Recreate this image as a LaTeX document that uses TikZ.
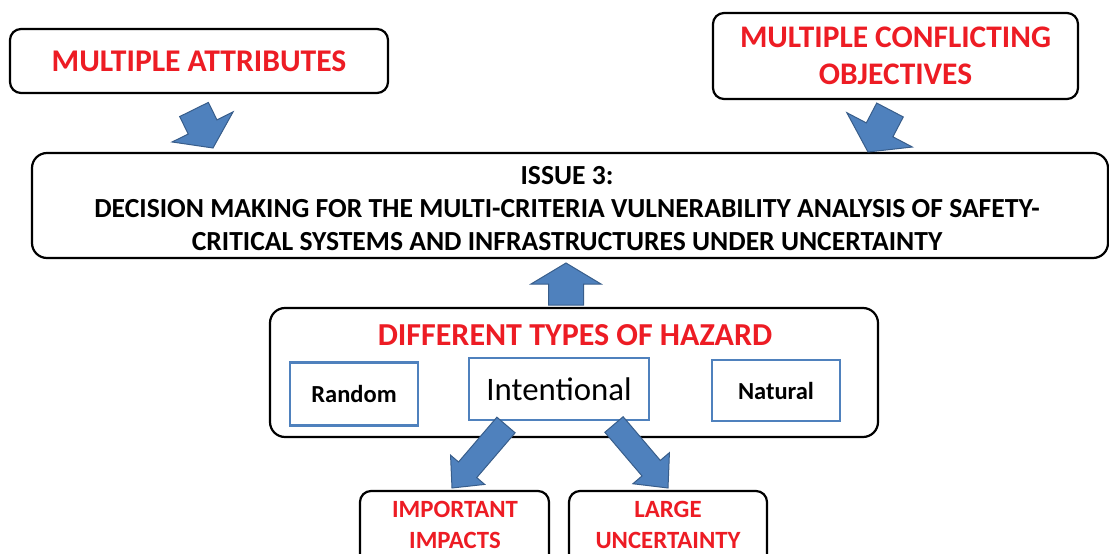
\documentclass[tikz,border=0pt]{standalone}
\usepackage{fontspec}
\setmainfont{Carlito}
\usetikzlibrary{calc}
\definecolor{hred}{HTML}{ED1C24}
\definecolor{afill}{HTML}{4F81BD}
\definecolor{adraw}{HTML}{385D8A}
\definecolor{bblue}{HTML}{4F81BD}
\newcommand\fsz[2]{\fontsize{#1}{#2}\selectfont}
\newcommand\blockarrow[5]{%
  \coordinate (ba-h) at ($(#2)!#5pt!(#1)$);
  \draw[blockarr] ($(#1)!#3pt!90:(#2)$) -- ($(ba-h)!#3pt!90:(#2)$) -- ($(ba-h)!#4pt!90:(#2)$)
    -- (#2) -- ($(ba-h)!#4pt!-90:(#2)$) -- ($(ba-h)!#3pt!-90:(#2)$) -- ($(#1)!#3pt!-90:(#2)$) -- cycle;}
\tikzset{
  blackbox/.style={draw=black, line width=2.2pt, rounded corners=11pt, fill=white, inner sep=0pt},
  bluebox/.style={draw=bblue, line width=2.5pt, fill=white, inner sep=0pt},
  redtxt/.style={text=hred, font=\bfseries, align=center},
  blockarr/.style={fill=afill, draw=adraw, line width=1pt, line join=miter},
}
\begin{document}
\begin{tikzpicture}[x=1pt,y=-1pt]
\useasboundingbox (0,0) rectangle (1109,554);
% top boxes
\node[blackbox, minimum width=378, minimum height=64, redtxt, font=\bfseries\fsz{31.6}{37}] (attr) at (199,61) {MULTIPLE ATTRIBUTES};
\node[blackbox, minimum width=365, minimum height=86, redtxt, font=\bfseries\fsz{31.4}{37}] (obj) at (895.5,56) {MULTIPLE CONFLICTING\\OBJECTIVES};
% main box
\node[blackbox, rounded corners=15pt, minimum width=1076, minimum height=105] (main) at (570,205.5) {};
\node[align=center, font=\bfseries\fsz{27.6}{33}] (maint) at (567,209) {ISSUE 3:\\DECISION MAKING FOR THE MULTI-CRITERIA VULNERABILITY ANALYSIS OF SAFETY-\\CRITICAL SYSTEMS AND INFRASTRUCTURES UNDER UNCERTAINTY};
% hazard box
\node[blackbox, rounded corners=15pt, minimum width=608, minimum height=129] (haz) at (574,372.5) {};
\node[redtxt, font=\bfseries\fsz{32}{37}] (hazt) at (575,335) {DIFFERENT TYPES OF HAZARD};
\node[bluebox, minimum width=128, minimum height=63, font=\bfseries\fsz{24.5}{30}] (rand) at (354,394) {Random};
\node[bluebox, minimum width=180, minimum height=62, font=\fsz{32.8}{37}] (intent) at (559,389) {Intentional};
\node[bluebox, minimum width=128, minimum height=61, font=\bfseries\fsz{24.5}{30}] (nat) at (776,390.5) {Natural};
% bottom boxes
\node[blackbox, minimum width=189, minimum height=89] (imp) at (454.5,535.5) {};
\node[blackbox, minimum width=198, minimum height=89] (large) at (668,535.5) {};
\node[redtxt, font=\bfseries\fsz{24.8}{31}, anchor=north] (impt) at (455,498) {IMPORTANT\\IMPACTS};
\node[redtxt, font=\bfseries\fsz{24.8}{31}, anchor=north] (larget) at (668,498) {LARGE\\UNCERTAINTY};
% block arrows
\coordinate (a1t) at (194,109.5); \coordinate (a1h) at (213,148);
\coordinate (a2t) at (890,110);   \coordinate (a2h) at (868,152);
\coordinate (a3t) at (566,305);   \coordinate (a3h) at (566,263);
\coordinate (a4t) at (506,425);   \coordinate (a4h) at (452,488);
\coordinate (a5t) at (614,424.5); \coordinate (a5h) at (668,488);
\blockarrow{a1t}{a1h}{16}{34}{23.5}
\blockarrow{a2t}{a2h}{15}{37}{25}
\blockarrow{a3t}{a3h}{17.5}{35}{21}
\blockarrow{a4t}{a4h}{12}{22.5}{24}
\blockarrow{a5t}{a5h}{12}{24}{26}
\end{tikzpicture}
\end{document}
